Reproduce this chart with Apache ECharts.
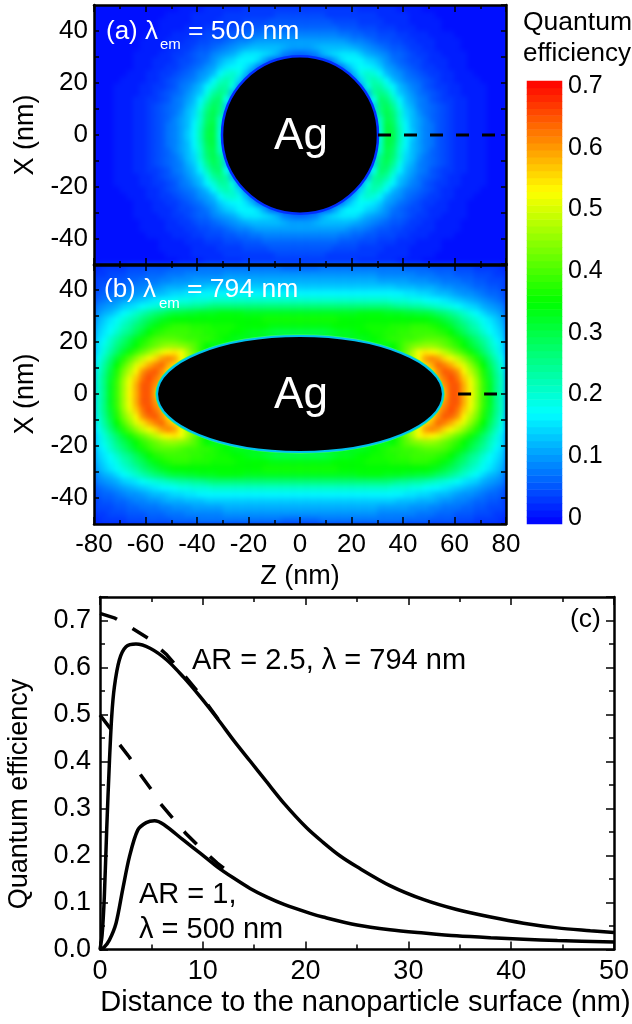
<!DOCTYPE html>
<html><head><meta charset="utf-8">
<style>html,body{margin:0;padding:0;background:#fff}#c{width:632px;height:1024px}
/* the bottom ECharts layer holds only the two map heatmaps: soften the cell edges, keep it inside the panels */
#c canvas:nth-child(1){filter:blur(2.6px);clip-path:inset(5px 126px 500px 94px)}</style>
<script src="https://cdn.jsdelivr.net/npm/echarts@6/dist/echarts.min.js"></script>
</head><body><div id="c"></div>
<script>
// Cell centres of one quadrant (nm); the figure is mirror-symmetric about both axes.
const zCentres=[1.25,3.75,6.25,8.75,11.25,13.75,16.25,18.75,21.25,23.75,26.25,28.75,31.25,33.75,36.25,38.75,41.25,43.75,46.25,48.75,51.25,53.75,56.25,58.75,61.25,63.75,66.25,68.75,71.25,73.75,76.25,78.75];
const xCentres=[1.25,3.75,6.25,8.75,11.25,13.75,16.25,18.75,21.25,23.75,26.25,28.75,31.25,33.75,36.25,38.75,41.25,43.75,46.25,48.75];
// Quantum efficiency x100; one row per xCentres entry
const qeA=[
[0,0,0,0,0,0,0,0,0,0,6,12,20,31,30,23,17,14,11,9,8,6,5,4,3,3,2,2,2,1,1,1],
[0,0,0,0,0,0,0,0,0,0,6,12,21,31,29,22,17,13,11,9,8,6,5,4,3,3,2,2,2,1,1,1],
[0,0,0,0,0,0,0,0,0,0,6,14,22,30,28,21,16,13,11,9,7,6,5,4,3,3,2,2,2,1,1,1],
[0,0,0,0,0,0,0,0,0,0,6,14,26,30,27,21,15,13,10,8,7,6,5,4,3,3,2,2,2,1,1,1],
[0,0,0,0,0,0,0,0,0,6,10,14,27,29,25,19,14,12,9,8,7,6,5,4,3,3,2,2,2,1,1,1],
[0,0,0,0,0,0,0,0,0,6,12,18,28,27,22,17,13,11,9,8,6,5,4,4,3,3,2,2,2,1,1,1],
[0,0,0,0,0,0,0,0,6,10,12,24,26,24,19,14,12,10,8,7,6,5,4,3,3,2,2,2,2,1,1,1],
[0,0,0,0,0,0,0,6,9,10,19,24,24,20,17,13,11,9,8,6,5,4,4,3,3,2,2,2,2,1,1,1],
[0,0,0,0,0,0,6,8,9,15,21,23,21,17,13,11,9,8,7,6,5,4,3,3,2,2,2,2,1,1,1,1],
[0,0,0,0,0,5,7,8,13,19,21,20,17,13,11,10,8,7,6,5,4,4,3,3,2,2,2,1,1,1,1,1],
[0,0,4,6,7,7,8,13,16,18,17,16,14,11,10,8,7,6,5,4,4,3,3,2,2,2,1,1,1,1,1,1],
[5,5,5,6,7,11,15,17,17,17,15,14,12,10,8,7,6,5,5,4,3,3,3,2,2,2,1,1,1,1,1,1],
[7,8,9,12,14,15,16,16,16,14,12,11,10,9,7,7,6,5,4,4,3,3,2,2,2,2,1,1,1,1,1,1],
[11,11,12,13,13,13,13,13,12,11,10,9,8,7,6,6,5,4,4,3,3,2,2,2,2,1,1,1,1,1,1,1],
[11,11,11,11,11,11,11,10,9,9,8,7,6,6,5,5,4,4,3,3,3,2,2,2,2,1,1,1,1,1,1,1],
[9,9,9,9,9,9,8,8,7,7,6,6,5,5,5,4,4,3,3,3,2,2,2,2,1,1,1,1,1,1,1,1],
[7,7,7,7,7,7,6,6,6,5,5,5,4,4,4,3,3,3,2,2,2,2,1,1,1,1,1,1,1,1,1,1],
[6,6,6,6,6,5,5,5,5,4,4,4,4,3,3,3,3,2,2,2,2,2,1,1,1,1,1,1,1,1,1,1],
[5,5,5,5,4,4,4,4,4,4,4,4,3,3,3,3,3,2,2,2,2,1,1,1,1,1,1,1,1,1,1,1],
[4,4,4,4,4,4,4,4,4,3,3,3,3,3,3,2,2,2,2,1,1,1,1,1,1,1,1,1,1,1,1,1]
];
// Quantum efficiency x100; cells under the particle carry the nearest visible level
const qeB=[
[0,0,0,0,0,0,0,0,0,0,0,0,0,0,0,0,0,0,0,0,50,55,58,64,64,58,53,46,39,33,26,21],
[0,0,0,0,0,0,0,0,0,0,0,0,0,0,0,0,0,0,0,50,55,58,60,64,64,58,52,46,39,33,26,21],
[0,0,0,0,0,0,0,0,0,0,0,0,0,0,0,0,0,0,0,50,55,58,62,65,62,56,51,45,38,32,26,21],
[0,0,0,0,0,0,0,0,0,0,0,0,0,0,0,0,0,0,50,52,55,60,64,63,60,53,48,43,37,31,25,20],
[0,0,0,0,0,0,0,0,0,0,0,0,0,0,0,0,0,50,52,55,58,63,61,58,54,50,45,40,35,29,24,19],
[0,0,0,0,0,0,0,0,0,0,0,0,0,0,45,45,45,47,52,59,61,59,55,52,49,45,41,37,32,27,22,18],
[0,0,0,0,0,0,0,0,0,0,0,0,35,35,35,38,42,47,52,54,53,51,48,45,42,39,36,32,28,24,20,16],
[33,33,33,33,33,33,33,33,33,33,33,33,33,33,35,38,41,43,44,45,45,44,42,40,38,35,32,29,26,22,19,16],
[33,33,33,33,33,33,33,33,33,33,34,35,36,37,38,38,39,39,40,41,41,41,40,38,36,33,30,27,24,21,17,15],
[30,30,30,30,31,32,33,33,34,35,35,36,36,37,37,38,38,39,39,39,39,38,37,35,32,29,26,24,21,18,16,14],
[34,34,34,34,34,35,35,35,35,35,36,36,36,36,37,37,37,38,38,38,37,36,34,32,29,27,24,22,19,17,15,13],
[36,36,36,36,36,36,35,35,35,35,35,35,35,35,35,35,35,35,35,35,34,33,31,29,27,24,22,20,18,16,14,12],
[33,33,33,33,33,33,33,33,33,34,34,34,34,33,33,33,32,32,31,31,30,28,27,25,23,21,19,17,15,13,12,10],
[27,27,27,27,27,27,27,27,27,27,27,27,27,27,26,25,25,24,24,23,22,21,20,19,18,16,15,14,12,11,10,9],
[21,21,21,21,21,21,21,21,21,21,21,21,21,21,20,20,20,19,19,18,17,17,16,15,14,13,12,11,10,9,8,7],
[17,17,17,17,17,17,17,17,17,17,17,17,17,17,17,17,16,16,15,15,14,13,13,12,11,10,10,9,8,7,7,6],
[14,14,14,14,14,14,14,14,14,14,14,14,14,14,14,13,13,13,12,12,12,11,10,10,9,9,8,7,7,6,6,5],
[12,12,12,12,12,12,12,12,12,12,12,12,11,11,11,11,11,10,10,10,9,9,8,8,8,7,7,6,6,5,5,5],
[10,10,10,10,10,10,10,10,10,10,10,10,9,9,9,9,9,9,8,8,8,7,7,7,6,6,6,5,5,5,4,4],
[7,7,7,8,8,8,8,8,8,8,8,8,8,8,8,8,7,7,7,7,6,6,6,6,5,5,5,4,4,4,4,3]
];
// Black particles: centre z, centre x, half axes (nm)
const particleA=[[0,0,30.3,30.3]];
const particleB=[[0,0,55.5,22.3]];
// Dashed probe lines in the maps
const probeA=[[30.3,0],[76.5,0]];
const probeB=[[61.4,0],[76.5,0]];
// Panel (c): [distance nm, quantum efficiency]
const solidAR25=[[0,0],[0.2,0.03],[0.42,0.112],[0.65,0.254],[0.91,0.396],[1.14,0.496],[1.4,0.559],[1.88,0.616],[2.53,0.644],[3.5,0.65],[4.87,0.641],[6.5,0.616],[8.1,0.58],[9.74,0.538],[11.4,0.492],[13,0.445],[14.6,0.401],[16.2,0.357],[17.9,0.311],[20.1,0.259],[21.7,0.228],[23.3,0.2],[25,0.176],[28.2,0.136],[31.5,0.106],[34.7,0.085],[38,0.069],[41.2,0.056],[44.5,0.046],[47.7,0.04],[50,0.036]];
const solidAR1=[[0,0],[0.4,0.005],[0.91,0.02],[1.56,0.056],[2.2,0.127],[2.86,0.197],[3.67,0.254],[4.5,0.27],[5.3,0.274],[6.2,0.266],[8.1,0.233],[9.74,0.205],[11.4,0.176],[13,0.152],[14.6,0.13],[16.2,0.112],[17.9,0.096],[20.45,0.077],[21.7,0.069],[25,0.052],[28.2,0.042],[31.5,0.035],[34.7,0.029],[38,0.025],[41.2,0.022],[44.5,0.019],[50,0.016]];
const dashAR25=[[0,0.715],[1.46,0.705],[3.1,0.684],[4.7,0.662],[6.5,0.627],[7.65,0.598],[9.9,0.538],[11.5,0.49]];
const dashAR1=[[0,0.499],[0.98,0.471],[1.8,0.439],[2.86,0.409],[3.84,0.375],[4.9,0.343],[5.86,0.311],[7.1,0.279],[8.3,0.248],[9.77,0.216],[11.4,0.184],[12.9,0.159]];
const barSteps=64;
const rainbow=['#0000ff','#00ffff','#00ff00','#ffff00','#ff0000'];

const FONT='"Liberation Sans",Arial,sans-serif', INK='#000', UP=1;
const zFull=[...zCentres].reverse().map(v=>-v).concat(zCentres);
const xFull=[...xCentres].reverse().map(v=>-v).concat(xCentres);
function mirror(rows){
  const out=[];const nz=zCentres.length,nx=xCentres.length;
  rows.forEach((row,j)=>row.forEach((v,i)=>{
    [nz-1-i,nz+i].forEach(cx=>[nx-1-j,nx+j].forEach(cy=>out.push([cx,cy,v])));
  }));
  return out;
}
const barCats=[],barData=[];
for(let i=0;i<barSteps;i++){barCats.push(String(i));barData.push([0,i,(i+0.5)*70/barSteps]);}

const line={show:true,onZero:false,lineStyle:{color:INK,width:2.5}};
const lab=(s)=>({color:INK,fontFamily:FONT,fontSize:s});
const tick=(l)=>({show:true,inside:true,length:l,lineStyle:{color:INK,width:1.5}});
const minor=(l)=>({show:true,splitNumber:2,length:l,lineStyle:{color:INK,width:1.5}});
function catX(g,d){return {type:'category',gridIndex:g,data:d,show:false,boundaryGap:true};}
function zAxis(g,pos,labelled,name){return {type:'value',gridIndex:g,position:pos,min:-80,max:80,interval:20,z:10,zlevel:UP,
  axisLine:line,axisTick:tick(7),minorTick:minor(4),splitLine:{show:false},
  axisLabel:{show:labelled,margin:8,...lab(26),hideOverlap:false,showMinLabel:true,showMaxLabel:true},
  name:name||'',nameLocation:'middle',nameGap:39,nameTextStyle:lab(27)};}
function xAxisMap(g,pos,labelled){return {type:'value',gridIndex:g,position:pos,min:-50,max:50,interval:10,z:10,zlevel:UP,
  axisLine:line,axisTick:tick(5),splitLine:{show:false},
  axisLabel:{show:labelled,margin:6,...lab(26),formatter:v=>(Math.round(v)%20===0?String(Math.round(v)):''),showMinLabel:false,showMaxLabel:false},
  name:labelled?'X (nm)':'',nameLocation:'middle',nameGap:52,nameTextStyle:lab(27)};}

const option={
  animation:false,
  textStyle:{fontFamily:FONT},
  visualMap:[{type:'continuous',show:false,min:0,max:70,dimension:2,seriesIndex:[0,1,8],inRange:{color:rainbow}}],
  grid:[
    {left:94,width:412,top:5,height:260},
    {left:94,width:412,top:264,height:260},
    {left:100,width:514,top:597,height:352.5},
    {left:527,width:35,top:81,height:443},
    {left:561,width:1,top:86,height:432}
  ],
  xAxis:[
    catX(0,zFull),zAxis(0,'bottom',false),zAxis(0,'top',false),
    catX(1,zFull),zAxis(1,'bottom',true,'Z (nm)'),zAxis(1,'top',false),
    {type:'value',gridIndex:2,position:'bottom',min:0,max:50,interval:10,z:10,zlevel:UP,axisLine:line,axisTick:tick(8),minorTick:minor(5),splitLine:{show:false},
     axisLabel:{margin:9,...lab(27)}},
    {type:'value',gridIndex:2,position:'top',min:0,max:50,interval:10,z:10,zlevel:UP,axisLine:line,axisTick:tick(8),minorTick:minor(5),splitLine:{show:false},axisLabel:{show:false}},
    {type:'category',gridIndex:3,data:['bar'],show:false},
    {type:'value',gridIndex:4,show:false,min:0,max:1}
  ],
  yAxis:[
    catX(0,xFull),xAxisMap(0,'left',true),xAxisMap(0,'right',false),
    catX(1,xFull),xAxisMap(1,'left',true),xAxisMap(1,'right',false),
    {type:'value',gridIndex:2,position:'left',min:0,max:0.75,interval:0.1,z:10,zlevel:UP,axisLine:line,axisTick:tick(8),minorTick:minor(5),splitLine:{show:false},
     axisLabel:{margin:9,...lab(27),formatter:v=>v.toFixed(1),showMaxLabel:false}},
    {type:'value',gridIndex:2,position:'right',min:0,max:0.75,interval:0.1,z:10,zlevel:UP,axisLine:line,axisTick:tick(8),minorTick:minor(5),splitLine:{show:false},axisLabel:{show:false}},
    {type:'category',gridIndex:3,data:barCats,show:false},
    {type:'value',gridIndex:4,position:'right',min:0,max:0.7,interval:0.1,zlevel:UP,axisLine:{show:false},axisTick:{show:false},splitLine:{show:false},
     axisLabel:{margin:6,...lab(25),formatter:v=>(v===0?'0':v.toFixed(1))}}
  ],
  series:[]
};
const ellipse=(rims)=>(params,api)=>{
  const c=api.coord([api.value(0),api.value(1)]);
  const s=api.size([api.value(2),api.value(3)]);
  const shape={cx:c[0],cy:c[1],rx:s[0],ry:s[1]};
  return {type:'group',children:rims.map((r,i)=>({type:'ellipse',shape,style:{fill:'#000',stroke:r[0],lineWidth:r[1]}}))};
};
const heat=(xi,yi,rows)=>({type:'heatmap',xAxisIndex:xi,yAxisIndex:yi,data:mirror(rows),silent:true,z:2,zlevel:0,progressive:0,emphasis:{disabled:true}});
const part=(xi,yi,d,rims)=>({type:'custom',xAxisIndex:xi,yAxisIndex:yi,data:d,renderItem:ellipse(rims),encode:{x:0,y:1},silent:true,z:3,zlevel:UP});
const dash=(xi,yi,d)=>({type:'line',xAxisIndex:xi,yAxisIndex:yi,data:d,showSymbol:false,silent:true,z:4,zlevel:UP,lineStyle:{color:INK,width:3,type:[13,13]}});
const curve=(d,t,w)=>({type:'line',xAxisIndex:6,yAxisIndex:6,data:d,showSymbol:false,smooth:t?false:0.3,silent:true,z:4,zlevel:UP,lineStyle:{color:INK,width:w,type:t||'solid'}});
option.series=[
  heat(0,0,qeA),heat(3,3,qeB),
  part(1,1,particleA,[['#0030ff',2.5]]),part(4,4,particleB,[['#30ff60',3.5],['#00c0f0',2]]),
  dash(1,1,probeA),dash(4,4,probeB),
  curve(solidAR25,null,3.5),curve(solidAR1,null,3.5),
  {type:'heatmap',xAxisIndex:8,yAxisIndex:8,data:barData,silent:true,zlevel:UP,progressive:0,emphasis:{disabled:true}},
  curve(dashAR25,[18,18],3.5),curve(dashAR1,[18,18],3.5)
];
const T=(text,x,y,size,fill,align,rot)=>({type:'text',zlevel:UP,z:20,x,y,rotation:rot||0,style:{text,font:`${size}px ${FONT}`,fill:fill||INK,align:align||'left',verticalAlign:'middle'}});
option.graphic={elements:[
  // backing for the blurred layer, so the soft edge fades into blue and not into white
  {type:'rect',zlevel:0,z:-1,shape:{x:84,y:0,width:432,height:534},style:{fill:'#0018ff'}},
  T('(a) λ',106,32,26,'#fff'),T('em',160,45,15,'#fff'),T('= 500 nm',188,32,26.5,'#fff'),
  T('(b) λ',104,290,26,'#fff'),T('em',159,304,15,'#fff'),T('= 794 nm',187,290,26.5,'#fff'),
  T('Ag',301,137,44,'#fff','center'),T('Ag',301,396,44,'#fff','center'),
  T('Quantum',523,23,26.5),T('efficiency',523,54,26),
  T('(c)',570,620,26.5),
  T('AR = 2.5, λ = 794 nm',192,661,29),
  T('AR = 1,',139,895,29),T('λ = 500 nm',139,930,29),
  T('Distance to the nanoparticle surface (nm)',365.5,1003,29,INK,'center'),
  T('Quantum efficiency',20,794,27,INK,'center',Math.PI/2)
]};
echarts.init(document.getElementById('c'),null,{renderer:'canvas'}).setOption(option);
</script></body></html>
